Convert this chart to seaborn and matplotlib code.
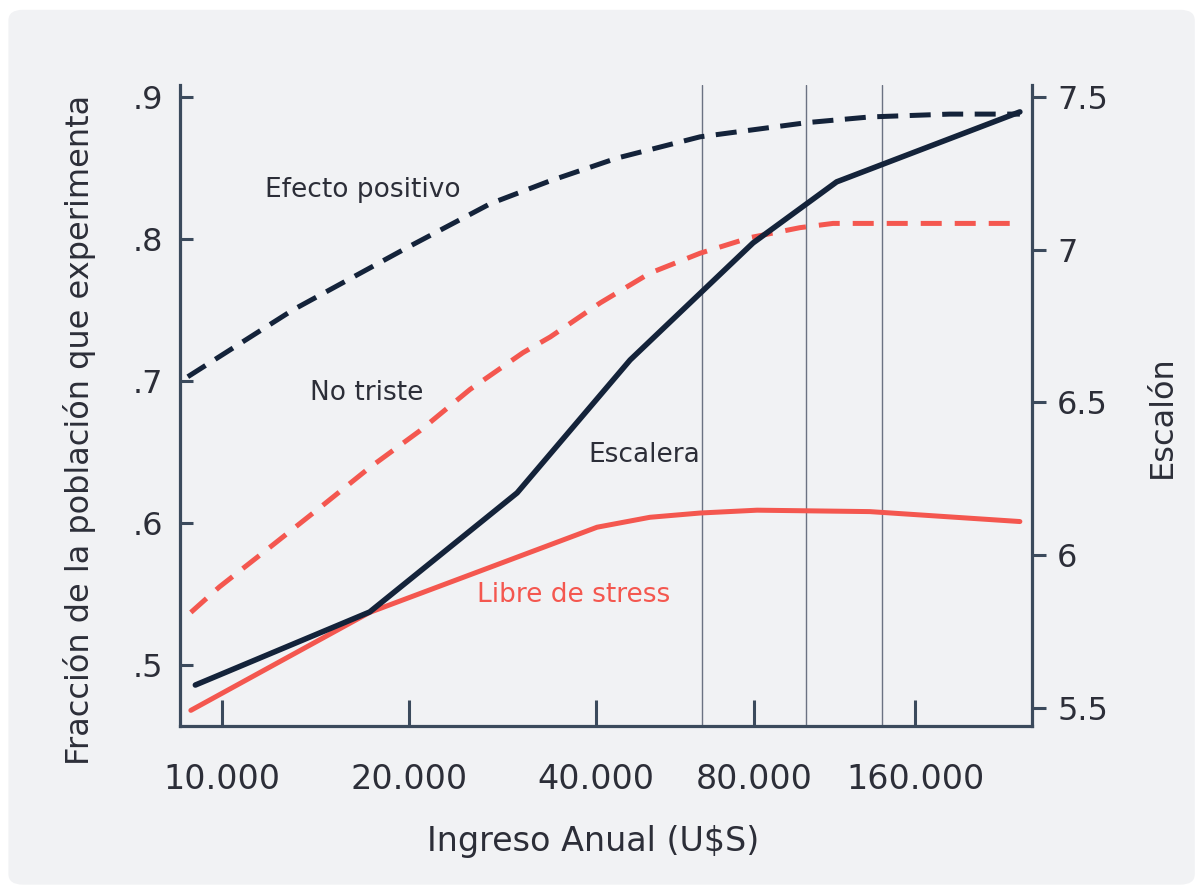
import numpy as np
import pandas as pd
import matplotlib
matplotlib.use("Agg")
import matplotlib.pyplot as plt
from matplotlib.patches import FancyBboxPatch
from matplotlib.ticker import FixedLocator, NullLocator
import seaborn as sns

# Ingreso anual (U$S) y valores
escalera_x = [9050, 17300, 29900, 46500, 79500, 114000, 251000]
escalera_y = [5.575, 5.814, 6.204, 6.639, 7.022, 7.222, 7.451]

efecto_x = [8800, 13000, 19900, 27100, 33800, 43900, 63100, 100300, 131500, 185600, 251000]
efecto_y = [0.703, 0.750, 0.794, 0.825, 0.841, 0.857, 0.872, 0.882, 0.886, 0.888, 0.888]

no_triste_x = [8900, 9900, 11950, 14400, 17300, 20860, 25100, 30570, 33800, 40800,
               50700, 63100, 78500, 97300, 112200, 139000, 251000]
no_triste_y = [0.537, 0.555, 0.583, 0.611, 0.639, 0.665, 0.694, 0.720, 0.731, 0.755,
               0.776, 0.790, 0.801, 0.808, 0.811, 0.811, 0.811]

libre_x = [8900, 17300, 40250, 50700, 63100, 80900, 131500, 251000]
libre_y = [0.468, 0.537, 0.597, 0.604, 0.607, 0.609, 0.608, 0.601]

vlines_x = [63500, 100000, 138500]

xticks = [10000, 20000, 40000, 80000, 160000]
xtick_labels = ["10.000", "20.000", "40.000", "80.000", "160.000"]
left_ticks = [0.5, 0.6, 0.7, 0.8, 0.9]
left_labels = [".5", ".6", ".7", ".8", ".9"]
right_ticks = [5.5, 6, 6.5, 7, 7.5]
right_labels = ["5.5", "6", "6.5", "7", "7.5"]

NAVY = "#14233a"
RED = "#f4574f"
SPINE = "#3b4a5c"
TXT = "#2c2e38"

sns.set_style("white")
plt.rcParams["font.family"] = ["DejaVu Sans"]

# the reference's log axis is not evenly spaced: map doublings to drawn positions
log_knots = np.array([-1, 0, 1, 2, 3, 4, 5])
pos_knots = np.array([-1, 0, 1, 2.003, 2.855, 3.718, 4.581])


def fwd(x):
    x = np.maximum(np.asarray(x, dtype=float), 1e-9)
    return np.interp(np.log2(x / 1e4), log_knots, pos_knots)


def inv(u):
    return 1e4 * 2 ** np.interp(np.asarray(u, dtype=float), pos_knots, log_knots)


fig = plt.figure(figsize=(12.02, 8.9), dpi=100)
fig.patch.set_facecolor("white")
fig.patches.append(FancyBboxPatch((0.007, 0.006), 0.987, 0.983,
                                  boxstyle="round,pad=0,rounding_size=0.012",
                                  transform=fig.transFigure, fc="#f1f2f4", ec="none", zorder=-5))

ax = fig.add_axes([0.1498, 0.1843, 0.7088, 0.7202])
ax.set_facecolor("none")
ax.set_xscale("function", functions=(fwd, inv))
ax2 = ax.twinx()
ax2.set_facecolor("none")

for v in vlines_x:
    ax.axvline(v, color="#6b7282", lw=1.0, zorder=1)

df_ef = pd.DataFrame({"ingreso": efecto_x, "valor": efecto_y})
df_nt = pd.DataFrame({"ingreso": no_triste_x, "valor": no_triste_y})
df_lb = pd.DataFrame({"ingreso": libre_x, "valor": libre_y})
df_es = pd.DataFrame({"ingreso": escalera_x, "valor": escalera_y})

sns.lineplot(data=df_ef, x="ingreso", y="valor", ax=ax, color=NAVY, lw=3.6,
             linestyle=(0, (4.2, 2.3)), legend=False, zorder=3)
sns.lineplot(data=df_nt, x="ingreso", y="valor", ax=ax, color=RED, lw=3.6,
             linestyle=(0, (4.2, 2.6)), legend=False, zorder=3)
sns.lineplot(data=df_lb, x="ingreso", y="valor", ax=ax, color=RED, lw=3.6,
             solid_capstyle="round", legend=False, zorder=3)
sns.lineplot(data=df_es, x="ingreso", y="valor", ax=ax2, color=NAVY, lw=4.0,
             solid_capstyle="round", legend=False, zorder=4)

ax.set_xlim(8550, 264500)
ax.set_ylim(0.457, 0.9085)
ax2.set_ylim(5.441, 7.539)

ax.xaxis.set_major_locator(FixedLocator(xticks))
ax.xaxis.set_minor_locator(NullLocator())
ax.set_xticklabels(xtick_labels)
ax.set_yticks(left_ticks)
ax.set_yticklabels(left_labels)
ax2.set_yticks(right_ticks)
ax2.set_yticklabels(right_labels)

for s in ["top", "right"]:
    ax.spines[s].set_visible(False)
for s in ["top", "left", "bottom"]:
    ax2.spines[s].set_visible(False)
for sp in [ax.spines["left"], ax.spines["bottom"], ax2.spines["right"]]:
    sp.set_color(SPINE)
    sp.set_linewidth(2.3)

ax.tick_params(axis="x", bottom=True, direction="in", length=19, width=2.2, color=SPINE,
               pad=27, labelsize=24, labelcolor=TXT)
ax.tick_params(axis="y", left=True, direction="in", length=9, width=2.2, color=SPINE,
               pad=12, labelsize=23, labelcolor=TXT)
ax2.tick_params(axis="y", right=True, direction="out", length=10, width=2.2, color=SPINE,
                pad=8, labelsize=23, labelcolor=TXT)

ax.set_xlabel("Ingreso Anual (U$S)", fontsize=24, color=TXT)
ax.xaxis.set_label_coords(0.4847, -0.1545)
ax.set_ylabel("Fracción de la población que experimenta", fontsize=23, color=TXT)
ax.yaxis.set_label_coords(-0.0986, 0.462)
ax2.set_ylabel("Escalón", fontsize=23, color=TXT)
ax2.yaxis.set_label_coords(1.135, 0.482)

ax.text(0.0998, 0.836, "Efecto positivo", transform=ax.transAxes, fontsize=19,
        color=TXT, va="center", ha="left")
ax.text(0.1526, 0.5195, "No triste", transform=ax.transAxes, fontsize=19,
        color=TXT, va="center", ha="left")
ax.text(0.479, 0.4228, "Escalera", transform=ax.transAxes, fontsize=19,
        color=TXT, va="center", ha="left")
ax.text(0.3486, 0.2044, "Libre de stress", transform=ax.transAxes, fontsize=19,
        color=RED, va="center", ha="left")

fig.savefig("out.png", dpi=100)
